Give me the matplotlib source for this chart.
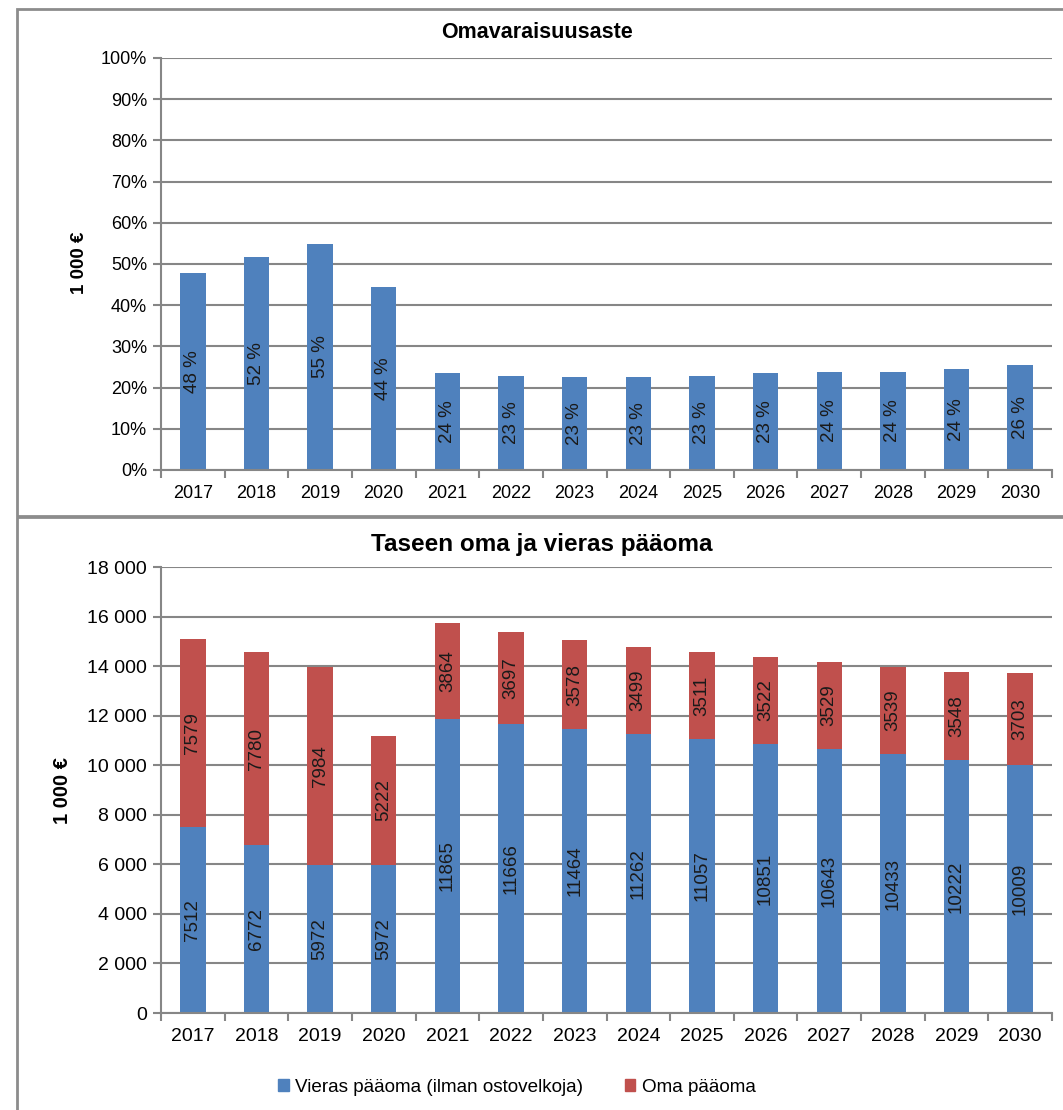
import numpy as np
import matplotlib
matplotlib.use('Agg')
import matplotlib.pyplot as plt
from matplotlib.patches import Rectangle, Patch
from matplotlib.ticker import FuncFormatter

plt.rcParams['font.family'] = ['Liberation Sans', 'DejaVu Sans']

years = ['2017', '2018', '2019', '2020', '2021', '2022', '2023',
         '2024', '2025', '2026', '2027', '2028', '2029', '2030']
# equity ratio (%), bar heights and their labels
omavar = [47.8, 51.6, 54.9, 44.3, 23.5, 22.8, 22.6, 22.6, 22.8, 23.5, 23.8, 23.9, 24.4, 25.6]
omavar_lbl = ['48 %', '52 %', '55 %', '44 %', '24 %', '23 %', '23 %', '23 %',
              '23 %', '23 %', '24 %', '24 %', '24 %', '26 %']
vieras = [7512, 6772, 5972, 5972, 11865, 11666, 11464, 11262, 11057, 10851, 10643, 10433, 10222, 10009]
oma = [7579, 7780, 7984, 5222, 3864, 3697, 3578, 3499, 3511, 3522, 3529, 3539, 3548, 3703]

blue = '#4F81BD'
red = '#C0504D'
grid_c = '#868686'
W, H = 1063, 1110

fig = plt.figure(figsize=(W / 100, H / 100), dpi=100)

# frames around the two chart areas
fig.patches.append(Rectangle((17 / W, 1 - 516 / H), 1.2, 507 / H, transform=fig.transFigure,
                             fill=False, edgecolor='#8c8c8c', lw=2))
fig.patches.append(Rectangle((17 / W, -0.1), 1.2, 1 - 517 / H + 0.1, transform=fig.transFigure,
                             fill=False, edgecolor='#8c8c8c', lw=2))

def style_axes(ax, fs):
    x = np.arange(len(years))
    ax.set_xlim(-0.5, len(years) - 0.5)
    ax.set_xticks(np.arange(len(years) + 1) - 0.5)
    ax.set_xticklabels([])
    ax.set_xticks(x, minor=True)
    ax.set_xticklabels(years, minor=True, fontsize=fs)
    ax.tick_params(axis='x', which='major', length=6, width=1.5, color=grid_c, direction='out')
    ax.tick_params(axis='x', which='minor', length=0, pad=11)
    ax.tick_params(axis='y', length=6, width=1.5, color=grid_c, labelsize=fs, pad=4)
    for s in ['top', 'right']:
        ax.spines[s].set_visible(False)
    for s in ['left', 'bottom']:
        ax.spines[s].set_color(grid_c)
        ax.spines[s].set_linewidth(1.5)
    ax.yaxis.grid(True, color=grid_c, lw=1.5)
    ax.set_axisbelow(True)

# top chart
ax1 = fig.add_axes([161 / W, 1 - 470 / H, (1052 - 161) / W, (470 - 58) / H])
x = np.arange(len(years))
ax1.bar(x, omavar, width=0.4, color=blue)
ax1.set_ylim(0, 100)
ax1.set_yticks(np.arange(0, 101, 10))
ax1.yaxis.set_major_formatter(FuncFormatter(lambda v, p: '%d%%' % v))
style_axes(ax1, 13)
for xi, v, t in zip(x, omavar, omavar_lbl):
    ax1.text(xi, v / 2, t, rotation=90, ha='center', va='center', fontsize=13.5, color='#1a1a1a')
fig.text(537 / W, 1 - 32 / H, 'Omavaraisuusaste', fontsize=15.5, fontweight='bold',
         ha='center', va='center')
fig.text(80 / W, 1 - 263 / H, '1 000 €', fontsize=13.5, fontweight='bold', rotation=90,
         ha='center', va='center')

# bottom chart
ax2 = fig.add_axes([161 / W, 1 - 1013 / H, (1052 - 161) / W, (1013 - 567) / H])
ax2.bar(x, vieras, width=0.4, color=blue, label='Vieras pääoma (ilman ostovelkoja)')
ax2.bar(x, oma, width=0.4, bottom=vieras, color=red, label='Oma pääoma')
ax2.set_ylim(0, 18000)
ax2.set_yticks(np.arange(0, 18001, 2000))
ax2.yaxis.set_major_formatter(FuncFormatter(lambda v, p: '{:,.0f}'.format(v).replace(',', ' ')))
style_axes(ax2, 14)
for xi, v, o in zip(x, vieras, oma):
    ax2.text(xi, v / 2, str(v), rotation=90, ha='center', va='center', fontsize=13.5, color='#1a1a1a')
    ax2.text(xi, v + o / 2, str(o), rotation=90, ha='center', va='center', fontsize=13.5, color='#1a1a1a')
fig.text(542 / W, 1 - 545 / H, 'Taseen oma ja vieras pääoma', fontsize=17.5, fontweight='bold',
         ha='center', va='center')
fig.text(63 / W, 1 - 790 / H, '1 000 €', fontsize=14.5, fontweight='bold', rotation=90,
         ha='center', va='center')

handles = [Patch(color=blue, label='Vieras pääoma (ilman ostovelkoja)'),
           Patch(color=red, label='Oma pääoma')]
fig.legend(handles=handles, loc='center', bbox_to_anchor=(517 / W, 1 - 1087 / H), ncol=2,
           frameon=False, fontsize=13.6, handlelength=0.55, handleheight=0.55,
           handletextpad=0.35, columnspacing=2.2)

fig.savefig('out.png', dpi=100)
